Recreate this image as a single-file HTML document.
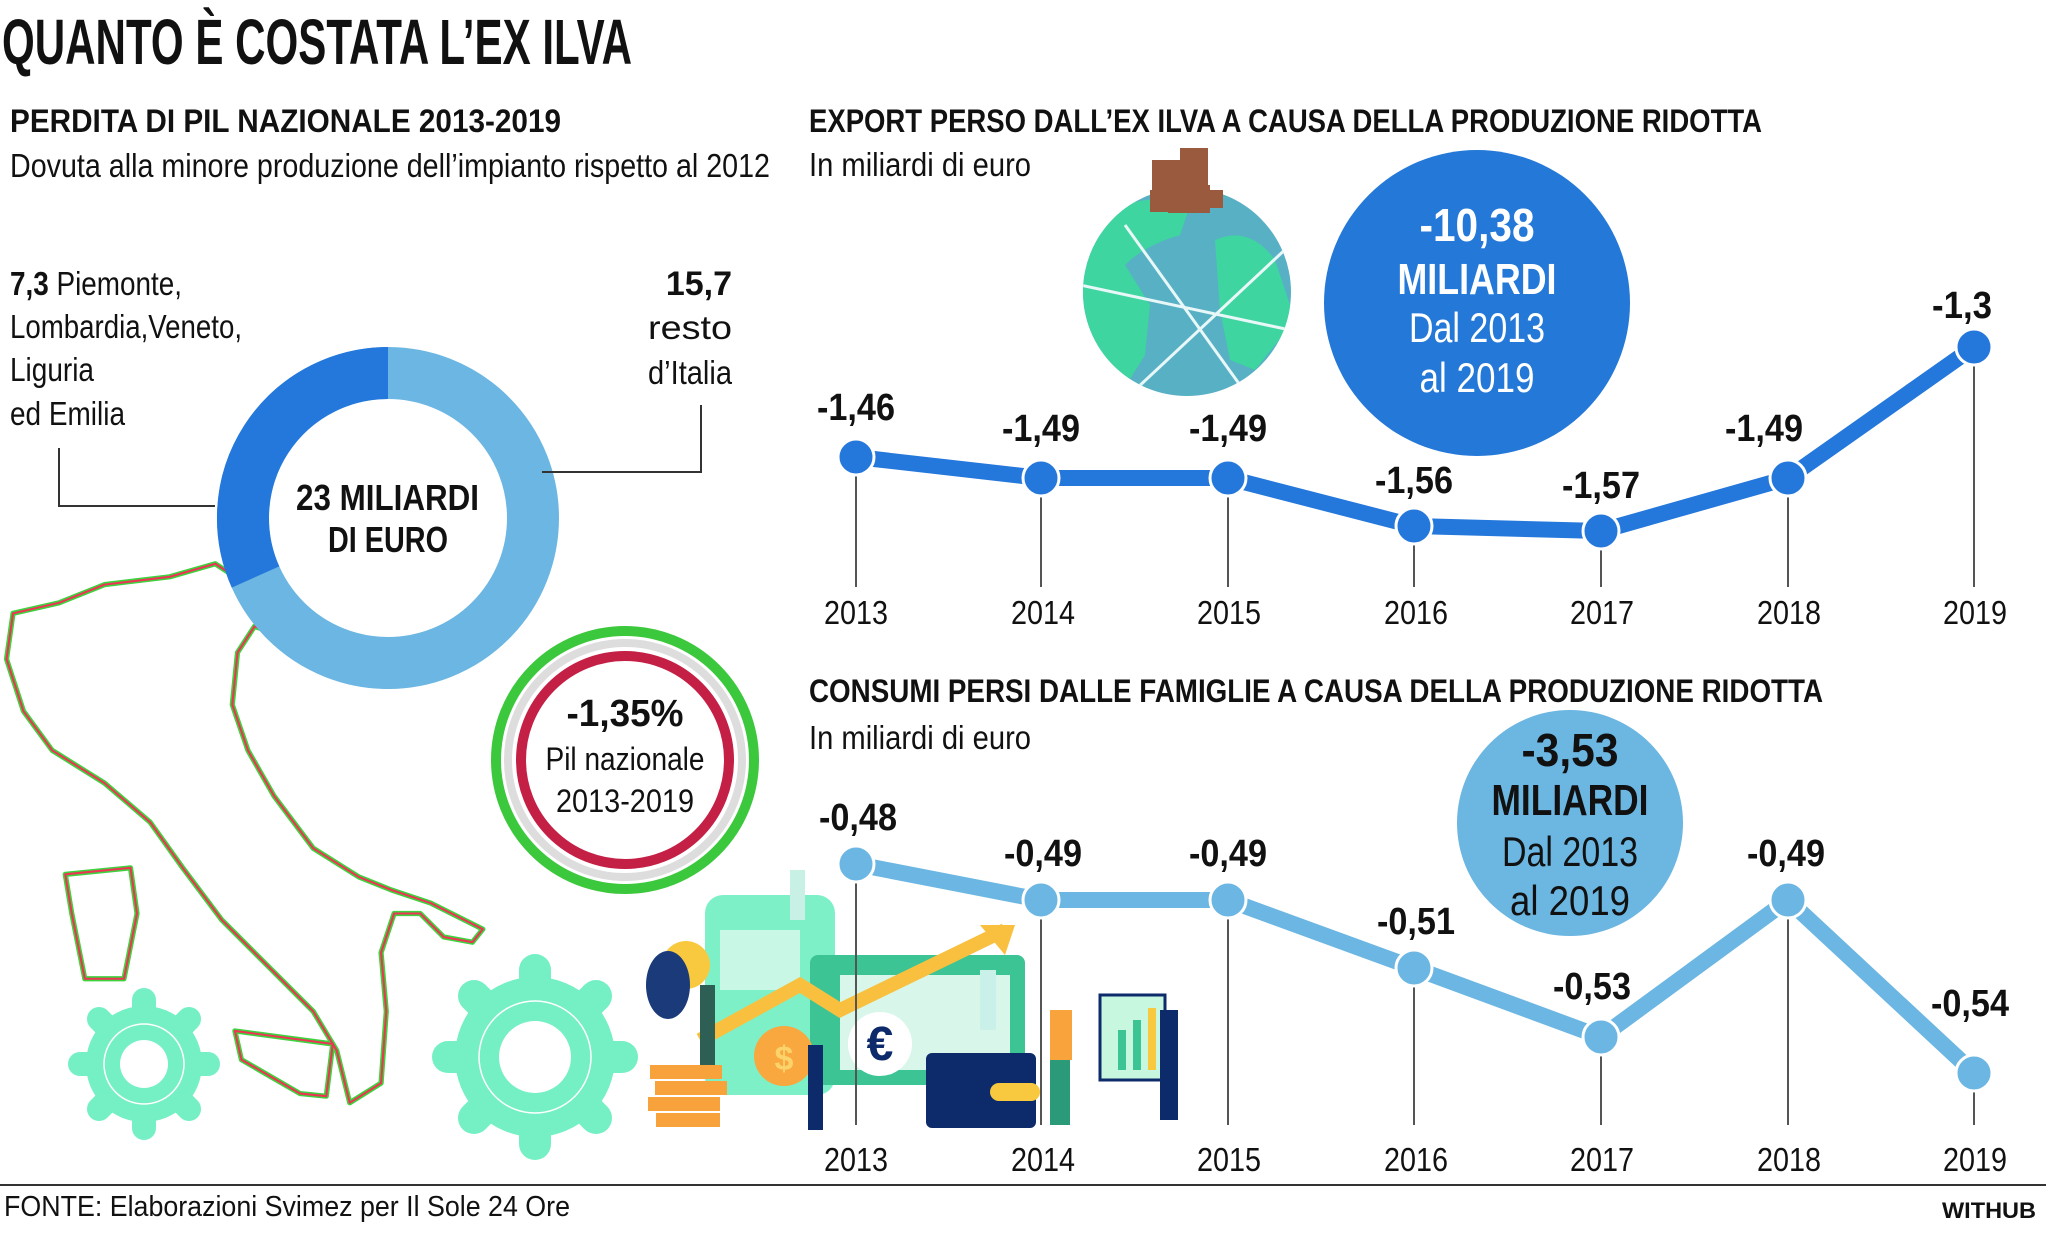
<!DOCTYPE html>
<html><head><meta charset="utf-8"><style>
html,body{margin:0;padding:0;background:#fff;}
svg{display:block;}
text{font-family:"Liberation Sans",sans-serif;fill:#111;}
.b{font-weight:bold;}
</style></head><body>
<svg width="2046" height="1238" viewBox="0 0 2046 1238" xmlns="http://www.w3.org/2000/svg">
<defs><clipPath id="gc"><circle cx="1187" cy="292" r="104"/></clipPath></defs>
<rect width="2046" height="1238" fill="#fff"/>
<text x="2" y="64" class="b" font-size="64" textLength="630" lengthAdjust="spacingAndGlyphs">QUANTO È COSTATA L’EX ILVA</text>
<text x="10" y="132" class="b" font-size="32" textLength="551" lengthAdjust="spacingAndGlyphs">PERDITA DI PIL NAZIONALE 2013-2019</text>
<text x="10" y="177" font-size="33" textLength="760" lengthAdjust="spacingAndGlyphs">Dovuta alla minore produzione dell’impianto rispetto al 2012</text>
<text x="809" y="132" class="b" font-size="32" textLength="953" lengthAdjust="spacingAndGlyphs">EXPORT PERSO DALL’EX ILVA A CAUSA DELLA PRODUZIONE RIDOTTA</text>
<text x="809" y="176" font-size="33" textLength="222" lengthAdjust="spacingAndGlyphs">In miliardi di euro</text>
<text x="809" y="702" class="b" font-size="32" textLength="1014" lengthAdjust="spacingAndGlyphs">CONSUMI PERSI DALLE FAMIGLIE A CAUSA DELLA PRODUZIONE RIDOTTA</text>
<text x="809" y="749" font-size="33" textLength="222" lengthAdjust="spacingAndGlyphs">In miliardi di euro</text>

<!-- Italy map -->
<g transform="scale(1.305)" fill="none" stroke-linejoin="round">
<g stroke="#3ed23e" stroke-width="4">
<polygon points="10,470 45,462 80,448 130,442 165,432 200,455 225,490 195,480 182,500 178,540 190,575 210,610 240,650 275,672 300,682 330,692 370,712 362,722 340,718 322,700 302,700 292,730 296,775 292,830 268,845 258,805 240,775 205,740 170,705 140,665 115,630 80,600 40,575 18,545 5,505"/>
<polygon points="50,670 100,665 105,700 95,750 65,750 55,700"/>
<polygon points="180,790 255,800 250,840 230,838 185,812"/>
</g>
<g stroke="#ee3355" stroke-width="1.6">
<polygon points="10,470 45,462 80,448 130,442 165,432 200,455 225,490 195,480 182,500 178,540 190,575 210,610 240,650 275,672 300,682 330,692 370,712 362,722 340,718 322,700 302,700 292,730 296,775 292,830 268,845 258,805 240,775 205,740 170,705 140,665 115,630 80,600 40,575 18,545 5,505"/>
<polygon points="50,670 100,665 105,700 95,750 65,750 55,700"/>
<polygon points="180,790 255,800 250,840 230,838 185,812"/>
</g>
</g>

<!-- Donut -->
<circle cx="388" cy="518" r="145" fill="none" stroke="#6bb6e2" stroke-width="52"/>
<path d="M388,373 A145,145 0 0 0 255.5,577" fill="none" stroke="#2477db" stroke-width="52"/>
<text x="296" y="510" class="b" font-size="36" textLength="183" lengthAdjust="spacingAndGlyphs">23 MILIARDI</text>
<text x="328" y="552" class="b" font-size="36" textLength="120" lengthAdjust="spacingAndGlyphs">DI EURO</text>
<polyline points="59,448 59,506 215,506" fill="none" stroke="#333" stroke-width="2"/>
<polyline points="701,405 701,472 542,472" fill="none" stroke="#333" stroke-width="2"/>
<text x="10" y="295" font-size="33" textLength="172" lengthAdjust="spacingAndGlyphs"><tspan class="b">7,3</tspan> Piemonte,</text>
<text x="10" y="338" font-size="33" textLength="232" lengthAdjust="spacingAndGlyphs">Lombardia,Veneto,</text>
<text x="10" y="381" font-size="33" textLength="84" lengthAdjust="spacingAndGlyphs">Liguria</text>
<text x="10" y="425" font-size="33" textLength="115" lengthAdjust="spacingAndGlyphs">ed Emilia</text>
<text x="732" y="295" class="b" font-size="34" text-anchor="end">15,7</text>
<text x="732" y="339" font-size="33" text-anchor="end" textLength="84" lengthAdjust="spacingAndGlyphs">resto</text>
<text x="732" y="384" font-size="33" text-anchor="end" textLength="84" lengthAdjust="spacingAndGlyphs">d’Italia</text>

<!-- gears -->
<g fill="#74f0c4">
<circle cx="144" cy="1064" r="58"/>
<g stroke="#74f0c4" stroke-width="24" stroke-linecap="round">
<line x1="144" y1="1000" x2="144" y2="1128"/><line x1="80" y1="1064" x2="208" y2="1064"/>
<line x1="99" y1="1019" x2="189" y2="1109"/><line x1="189" y1="1019" x2="99" y2="1109"/>
</g>
<circle cx="535" cy="1057" r="80"/>
<g stroke="#74f0c4" stroke-width="32" stroke-linecap="round">
<line x1="535" y1="970" x2="535" y2="1144"/><line x1="448" y1="1057" x2="622" y2="1057"/>
<line x1="474" y1="996" x2="596" y2="1118"/><line x1="596" y1="996" x2="474" y2="1118"/>
</g>
</g>
<circle cx="144" cy="1064" r="24" fill="#fff"/>
<circle cx="144" cy="1064" r="40" fill="none" stroke="#fff" stroke-width="1.5"/>
<circle cx="535" cy="1057" r="36" fill="#fff"/>
<circle cx="535" cy="1057" r="56" fill="none" stroke="#fff" stroke-width="1.5"/>

<!-- PIL circle -->
<circle cx="625" cy="760" r="129" fill="none" stroke="#3cc83c" stroke-width="10"/>
<circle cx="625" cy="760" r="117" fill="none" stroke="#ddd" stroke-width="8"/>
<circle cx="625" cy="760" r="104" fill="none" stroke="#c41f45" stroke-width="10"/>
<text x="625" y="726" class="b" font-size="38" text-anchor="middle" textLength="117" lengthAdjust="spacingAndGlyphs">-1,35%</text>
<text x="625" y="770" font-size="32" text-anchor="middle" textLength="159" lengthAdjust="spacingAndGlyphs">Pil nazionale</text>
<text x="625" y="812" font-size="32" text-anchor="middle" textLength="138" lengthAdjust="spacingAndGlyphs">2013-2019</text>

<!-- Globe -->
<circle cx="1187" cy="292" r="104" fill="#58b0c4"/>
<g clip-path="url(#gc)">
<path d="M1105,215 q40,-25 85,-10 l-10,30 q-35,10 -55,30 l25,40 -5,50 -25,40 q-25,-20 -30,-60 l-30,-50 z" fill="#3ed5a0"/>
<path d="M1215,240 q35,-15 60,20 l20,60 -40,50 -25,-10 -10,-50 z" fill="#3ed5a0"/>
<g stroke="#e8f7f7" stroke-width="3"><line x1="1080" y1="285" x2="1290" y2="330"/><line x1="1125" y1="225" x2="1245" y2="392"/><line x1="1135" y1="390" x2="1290" y2="245"/></g>
</g>
<g fill="#9a5a3e"><rect x="1152" y="160" width="30" height="40"/><rect x="1180" y="148" width="28" height="46"/><rect x="1168" y="185" width="42" height="28"/><rect x="1150" y="190" width="22" height="22"/><rect x="1205" y="190" width="18" height="18"/></g>

<!-- big circles -->
<circle cx="1477" cy="303" r="153" fill="#2378d8"/>
<text x="1477" y="241" class="b" font-size="46" text-anchor="middle" textLength="115" lengthAdjust="spacingAndGlyphs" style="fill:#fff">-10,38</text>
<text x="1477" y="294" class="b" font-size="44" text-anchor="middle" textLength="159" lengthAdjust="spacingAndGlyphs" style="fill:#fff">MILIARDI</text>
<text x="1477" y="342" font-size="42" text-anchor="middle" textLength="136" lengthAdjust="spacingAndGlyphs" style="fill:#fff">Dal 2013</text>
<text x="1477" y="392" font-size="42" text-anchor="middle" textLength="115" lengthAdjust="spacingAndGlyphs" style="fill:#fff">al 2019</text>

<circle cx="1570" cy="823" r="113" fill="#6cb6e2"/>
<text x="1570" y="766" class="b" font-size="46" text-anchor="middle" textLength="97" lengthAdjust="spacingAndGlyphs">-3,53</text>
<text x="1570" y="815" class="b" font-size="44" text-anchor="middle" textLength="157" lengthAdjust="spacingAndGlyphs">MILIARDI</text>
<text x="1570" y="866" font-size="42" text-anchor="middle" textLength="136" lengthAdjust="spacingAndGlyphs">Dal 2013</text>
<text x="1570" y="915" font-size="42" text-anchor="middle" textLength="120" lengthAdjust="spacingAndGlyphs">al 2019</text>

<!-- Export chart -->
<g stroke="#555" stroke-width="2">
<line x1="856" y1="475" x2="856" y2="587"/><line x1="1041" y1="496" x2="1041" y2="587"/><line x1="1228" y1="496" x2="1228" y2="587"/>
<line x1="1414" y1="544" x2="1414" y2="587"/><line x1="1601" y1="549" x2="1601" y2="587"/><line x1="1788" y1="496" x2="1788" y2="587"/><line x1="1974" y1="365" x2="1974" y2="587"/>
</g>
<polyline points="856,457 1041,478 1228,478 1414,526 1601,531 1788,478 1974,347" fill="none" stroke="#2477db" stroke-width="16" stroke-linejoin="round"/>
<g fill="#2477db" stroke="#fff" stroke-width="3">
<circle cx="856" cy="457" r="18"/><circle cx="1041" cy="478" r="18"/><circle cx="1228" cy="478" r="18"/><circle cx="1414" cy="526" r="18"/><circle cx="1601" cy="531" r="18"/><circle cx="1788" cy="478" r="18"/><circle cx="1974" cy="347" r="18"/>
</g>
<g class="b" font-size="38" text-anchor="middle">
<text x="856" y="420" textLength="78" lengthAdjust="spacingAndGlyphs">-1,46</text>
<text x="1041" y="441" textLength="78" lengthAdjust="spacingAndGlyphs">-1,49</text>
<text x="1228" y="441" textLength="78" lengthAdjust="spacingAndGlyphs">-1,49</text>
<text x="1414" y="493" textLength="78" lengthAdjust="spacingAndGlyphs">-1,56</text>
<text x="1601" y="498" textLength="78" lengthAdjust="spacingAndGlyphs">-1,57</text>
<text x="1764" y="441" textLength="78" lengthAdjust="spacingAndGlyphs">-1,49</text>
<text x="1962" y="318" textLength="60" lengthAdjust="spacingAndGlyphs">-1,3</text>
</g>
<g font-size="33" text-anchor="middle">
<text x="856" y="624" textLength="64" lengthAdjust="spacingAndGlyphs">2013</text><text x="1043" y="624" textLength="64" lengthAdjust="spacingAndGlyphs">2014</text><text x="1229" y="624" textLength="64" lengthAdjust="spacingAndGlyphs">2015</text><text x="1416" y="624" textLength="64" lengthAdjust="spacingAndGlyphs">2016</text><text x="1602" y="624" textLength="64" lengthAdjust="spacingAndGlyphs">2017</text><text x="1789" y="624" textLength="64" lengthAdjust="spacingAndGlyphs">2018</text><text x="1975" y="624" textLength="64" lengthAdjust="spacingAndGlyphs">2019</text>
</g>

<!-- Illustration -->
<g>
<rect x="705" y="895" width="130" height="200" rx="18" fill="#7ef0c8"/>
<rect x="720" y="930" width="80" height="60" fill="#c9f7e6"/>
<rect x="810" y="955" width="215" height="130" rx="8" fill="#3cc495"/>
<rect x="840" y="975" width="170" height="95" fill="#d8f7ea"/>
<circle cx="880" cy="1044" r="32" fill="#fff"/><text x="880" y="1060" class="b" font-size="48" text-anchor="middle" style="fill:#0d2a6b">€</text>
<rect x="926" y="1053" width="110" height="75" rx="6" fill="#0d2a6b"/>
<rect x="990" y="1083" width="50" height="18" rx="9" fill="#f8c93e"/>
<circle cx="784" cy="1056" r="30" fill="#f8a83e"/><text x="784" y="1070" class="b" font-size="34" text-anchor="middle" style="fill:#fcd36b">$</text>
<g fill="#f7a23b"><rect x="650" y="1065" width="72" height="14"/><rect x="655" y="1081" width="72" height="14"/><rect x="648" y="1097" width="72" height="14"/><rect x="656" y="1113" width="64" height="14"/></g>
<circle cx="686" cy="965" r="24" fill="#f8c93e"/>
<ellipse cx="668" cy="985" rx="22" ry="34" fill="#1a3a7a"/>
<polyline points="700,1040 800,985 840,1010 1005,930" fill="none" stroke="#f8c03e" stroke-width="14"/>
<polygon points="1015,925 980,925 1005,955" fill="#f8c03e"/>
<rect x="1100" y="995" width="65" height="85" fill="#c8f7e0" stroke="#0d2a6b" stroke-width="3"/>
<rect x="1118" y="1030" width="8" height="40" fill="#3cc495"/><rect x="1133" y="1020" width="8" height="50" fill="#3cc495"/><rect x="1148" y="1008" width="8" height="62" fill="#f8c93e"/>
<rect x="1050" y="1010" width="22" height="50" fill="#f8a33b"/><rect x="1050" y="1060" width="20" height="65" fill="#2a9a78"/>
<rect x="1160" y="1010" width="18" height="110" fill="#0d2a6b"/>
<rect x="980" y="970" width="16" height="60" fill="#c9f1e9"/>
<rect x="790" y="870" width="15" height="50" fill="#c8f0e4"/>
<rect x="700" y="985" width="15" height="80" fill="#2e5f55"/>
<rect x="808" y="1045" width="15" height="85" fill="#0d2a6b"/>
</g>

<!-- Consumi chart -->
<g stroke="#555" stroke-width="2">
<line x1="856" y1="882" x2="856" y2="1125"/><line x1="1041" y1="918" x2="1041" y2="1125"/><line x1="1228" y1="918" x2="1228" y2="1125"/>
<line x1="1414" y1="986" x2="1414" y2="1125"/><line x1="1601" y1="1055" x2="1601" y2="1125"/><line x1="1788" y1="918" x2="1788" y2="1125"/><line x1="1974" y1="1091" x2="1974" y2="1125"/>
</g>
<polyline points="856,864 1041,900 1228,900 1414,968 1601,1037 1788,900 1974,1073" fill="none" stroke="#6bb6e2" stroke-width="16" stroke-linejoin="round"/>
<g fill="#6bb6e2" stroke="#fff" stroke-width="3">
<circle cx="856" cy="864" r="18"/><circle cx="1041" cy="900" r="18"/><circle cx="1228" cy="900" r="18"/><circle cx="1414" cy="968" r="18"/><circle cx="1601" cy="1037" r="18"/><circle cx="1788" cy="900" r="18"/><circle cx="1974" cy="1073" r="18"/>
</g>
<g class="b" font-size="38" text-anchor="middle">
<text x="858" y="830" textLength="78" lengthAdjust="spacingAndGlyphs">-0,48</text>
<text x="1043" y="866" textLength="78" lengthAdjust="spacingAndGlyphs">-0,49</text>
<text x="1228" y="866" textLength="78" lengthAdjust="spacingAndGlyphs">-0,49</text>
<text x="1416" y="934" textLength="78" lengthAdjust="spacingAndGlyphs">-0,51</text>
<text x="1592" y="999" textLength="78" lengthAdjust="spacingAndGlyphs">-0,53</text>
<text x="1786" y="866" textLength="78" lengthAdjust="spacingAndGlyphs">-0,49</text>
<text x="1970" y="1016" textLength="78" lengthAdjust="spacingAndGlyphs">-0,54</text>
</g>
<g font-size="33" text-anchor="middle">
<text x="856" y="1171" textLength="64" lengthAdjust="spacingAndGlyphs">2013</text><text x="1043" y="1171" textLength="64" lengthAdjust="spacingAndGlyphs">2014</text><text x="1229" y="1171" textLength="64" lengthAdjust="spacingAndGlyphs">2015</text><text x="1416" y="1171" textLength="64" lengthAdjust="spacingAndGlyphs">2016</text><text x="1602" y="1171" textLength="64" lengthAdjust="spacingAndGlyphs">2017</text><text x="1789" y="1171" textLength="64" lengthAdjust="spacingAndGlyphs">2018</text><text x="1975" y="1171" textLength="64" lengthAdjust="spacingAndGlyphs">2019</text>
</g>

<line x1="0" y1="1185" x2="2046" y2="1185" stroke="#333" stroke-width="2"/>
<text x="4" y="1216" font-size="29" textLength="566" lengthAdjust="spacingAndGlyphs">FONTE: Elaborazioni Svimez per Il Sole 24 Ore</text>
<text x="2036" y="1218" class="b" font-size="22" text-anchor="end" textLength="94" lengthAdjust="spacingAndGlyphs">WITHUB</text>
</svg>
</body></html>
